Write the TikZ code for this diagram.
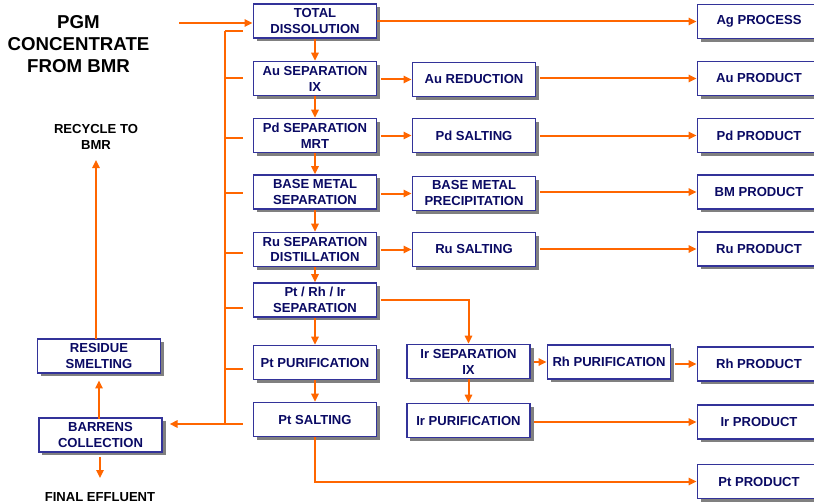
\documentclass[tikz,border=0pt]{standalone}
\usepackage{fontspec}
\setmainfont{Liberation Sans}
\usetikzlibrary{arrows.meta,shadows}
\definecolor{org}{RGB}{255,102,0}
\definecolor{bxc}{RGB}{51,51,153}
\definecolor{txc}{RGB}{10,10,100}
\definecolor{shc}{RGB}{128,128,128}
\tikzset{
  box/.style={draw=bxc, line width=1.2pt, fill=white, text=txc,
    font=\fontsize{9.8}{12}\selectfont\bfseries, align=center,
    minimum width=92.5pt, minimum height=25.5pt, inner sep=0pt,
    drop shadow={shadow xshift=2.6pt, shadow yshift=-2.6pt, fill=shc, opacity=1}},
  lbl/.style={text=black, font=\fontsize{9.8}{12}\selectfont\bfseries, align=center, inner sep=0pt},
  flow/.style={draw=org, line width=1.5pt, -{Triangle[length=6pt,width=5.5pt]}},
  pipe/.style={draw=org, line width=1.3pt},
}
\begin{document}
\begin{tikzpicture}[x=0.75pt,y=-0.75pt]
\useasboundingbox (0,0) rectangle (814,503);
\clip (0,0) rectangle (814,503);
% main column
\node[box] (td)  at (315,21)    {TOTAL\\DISSOLUTION};
\node[box] (aus) at (315,78.5)  {Au SEPARATION\\IX};
\node[box] (pds) at (315,135.5) {Pd SEPARATION\\MRT};
\node[box] (bms) at (315,192)   {BASE METAL\\SEPARATION};
\node[box] (rus) at (315,249.5) {Ru SEPARATION\\DISTILLATION};
\node[box] (pri) at (315,300)   {Pt / Rh / Ir\\SEPARATION};
\node[box] (ptp) at (315,362.5) {Pt PURIFICATION};
\node[box] (pts) at (315,419.5) {Pt SALTING};
% second column
\node[box] (aur) at (474,79.5)  {Au REDUCTION};
\node[box] (pdsa) at (474,135.5) {Pd SALTING};
\node[box] (bmp) at (474,193.5) {BASE METAL\\PRECIPITATION};
\node[box] (rusa) at (474,249.5) {Ru SALTING};
\node[box] (irs) at (468.5,361.5) {Ir SEPARATION\\IX};
\node[box] (irp) at (468.5,420.5) {Ir PURIFICATION};
\node[box] (rhp) at (609,362)   {Rh PURIFICATION};
% products
\node[box] (ag)   at (759,21.5)  {Ag PROCESS};
\node[box] (aupr) at (759,78.5)  {Au PRODUCT};
\node[box] (pdpr) at (759,135.5) {Pd PRODUCT};
\node[box] (bmpr) at (759,192)   {BM PRODUCT};
\node[box] (rupr) at (759,249)   {Ru PRODUCT};
\node[box] (rhpr) at (759,364)   {Rh PRODUCT};
\node[box] (irpr) at (759,422)   {Ir PRODUCT};
\node[box] (ptpr) at (759,481.5) {Pt PRODUCT};
% left
\node[box] (res) at (99,356)  {RESIDUE\\SMELTING};
\node[box] (bar) at (100.5,435) {BARRENS\\COLLECTION};
\node[text=black, font=\fontsize{14}{16.5}\selectfont\bfseries, align=center, inner sep=0pt] (pgm) at (78.5,44) {PGM\\CONCENTRATE\\FROM BMR};
\node[lbl] (rec) at (96,137) {RECYCLE TO\\BMR};
\node[lbl] (fe) at (100,497) {FINAL EFFLUENT};

% input
\coordinate (pgmout) at (179,23);
\draw[flow] (pgmout) -- (pgmout -| td.west);
\draw[flow] (td.east |- 0,21.5) -- (ag.west |- 0,21.5);
% main chain
\foreach \a/\b in {td/aus,aus/pds,pds/bms,bms/rus,rus/pri,pri/ptp,ptp/pts}
  \draw[flow] (\a.south) -- (\b.north);
% to second column
\foreach \a/\b in {aus/aur,pds/pdsa,bms/bmp,rus/rusa}
  \draw[flow] ([xshift=2.5pt]\a.east |- \b.center) -- (\b.west);
% to products
\foreach \a/\b in {aur/aupr,pdsa/pdpr,bmp/bmpr,rusa/rupr,rhp/rhpr,irp/irpr}
  \draw[flow] ([xshift=2.5pt]\a.east |- \b.center) -- (\b.west);
\draw[flow] ([xshift=2.5pt]irs.east |- rhp.center) -- (rhp.west);
\draw[flow] (irs.south) -- (irp.north);
\draw[flow] ([xshift=2.5pt]pri.east) -| (irs.north);
\draw[flow] (pts.south) |- (ptpr.west);
% barrens manifold
\coordinate (vtop) at (225,31);
\coordinate (vbot) at (225,424);
\draw[pipe] (vtop) -- (vbot);
\foreach \y in {31,78,138,193,253,308,369,424}
  \draw[pipe] (225,\y) -- (243,\y);
\draw[flow] (vbot) -- ([xshift=5pt]bar.east |- vbot);
% left flows
\draw[flow] ([yshift=-1pt]bar.north -| 99,0) -- ([yshift=-5pt]res.south -| 99,0);
\coordinate (resout) at (96,339);
\draw[flow] (resout) -- (96,160);
\draw[flow] ([yshift=-3pt]bar.south -| 100,0) -- (100,478);
\end{tikzpicture}
\end{document}
